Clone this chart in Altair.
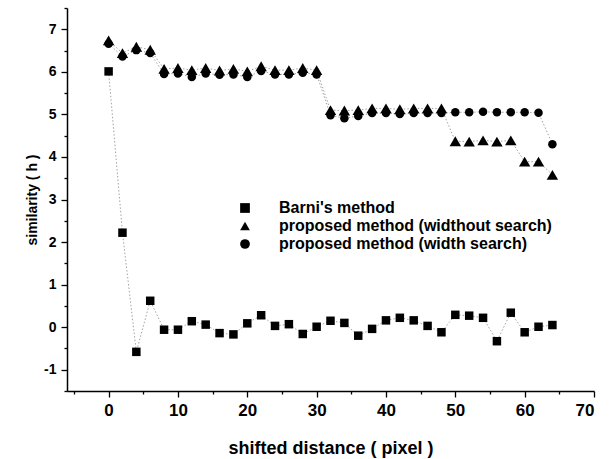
import altair as alt
import pandas as pd

x_vals = [0, 2, 4, 6, 8, 10, 12, 14, 16, 18, 20, 22, 24, 26, 28, 30, 32,
          34, 36, 38, 40, 42, 44, 46, 48, 50, 52, 54, 56, 58, 60, 62, 64]

barni = [6.01, 2.22, -0.58, 0.62, -0.06, -0.06, 0.14, 0.06, -0.14, -0.17, 0.09,
         0.28, 0.03, 0.07, -0.16, 0.01, 0.15, 0.10, -0.20, -0.04, 0.16, 0.22,
         0.16, 0.03, -0.12, 0.29, 0.27, 0.22, -0.33, 0.34, -0.12, 0.01, 0.05]

without_search = [6.74, 6.44, 6.59, 6.52, 6.07, 6.09, 6.04, 6.09, 6.03, 6.07, 6.01,
                  6.13, 6.04, 6.04, 6.09, 6.04, 5.10, 5.09, 5.10, 5.14, 5.14, 5.12,
                  5.14, 5.14, 5.14, 4.37, 4.36, 4.39, 4.36, 4.39, 3.89, 3.89, 3.58]

with_search = [6.66, 6.36, 6.51, 6.44, 5.95, 5.96, 5.88, 5.96, 5.93, 5.94, 5.88,
               6.02, 5.94, 5.94, 5.98, 5.94, 4.98, 4.91, 4.96, 5.03, 5.03, 5.01,
               5.03, 5.03, 5.03, 5.05, 5.05, 5.06, 5.05, 5.05, 5.05, 5.04, 4.30]

series_names = ["Barni's method",
                "proposed method (widthout search)",
                "proposed method (width search)"]

# drawing order: squares, then circles, then triangles on top
draw_order = [(series_names[0], barni), (series_names[2], with_search),
              (series_names[1], without_search)]

rows = []
for name, vals in draw_order:
    for xv, yv in zip(x_vals, vals):
        rows.append({"x": xv, "y": yv, "series": name})
df = pd.DataFrame(rows)

FONT = "Liberation Sans"
xdom = [-6, 70]
ydom = [-1.5, 7.5]

xs_major = alt.Scale(domain=xdom, nice=False, zero=False)
ys_major = alt.Scale(domain=ydom, nice=False, zero=False)

base = alt.Chart(df)

lines = base.mark_line(stroke="#8a8a8a", strokeWidth=0.8, strokeDash=[1.5, 2]).encode(
    x=alt.X("x:Q", scale=xs_major,
            axis=alt.Axis(title="shifted distance ( pixel )",
                          values=[0, 10, 20, 30, 40, 50, 60, 70],
                          orient="bottom", tickSize=6, labelPadding=5,
                          labelFontSize=17, titleFontSize=18,
                          titlePadding=21, grid=False)),
    y=alt.Y("y:Q", scale=ys_major,
            axis=alt.Axis(title="similarity ( h )",
                          values=[-1, 0, 1, 2, 3, 4, 5, 6, 7],
                          labelExpr="replace(datum.label, '\u2212', '-')",
                          orient="left", tickSize=6, labelPadding=5,
                          labelFontSize=14, titleFontSize=14,
                          titlePadding=4, grid=False)),
    detail="series:N",
)

points = base.transform_window(
    rank="row_number()"
).transform_calculate(
    msize="datum.series === \"Barni's method\" ? 72 : (datum.series === 'proposed method (width search)' ? 72 : 130)"
).mark_point(filled=True, opacity=1).encode(
    x=alt.X("x:Q", scale=xs_major),
    y=alt.Y("y:Q", scale=ys_major),
    shape=alt.Shape("series:N",
                    scale=alt.Scale(domain=series_names,
                                    range=["square", "triangle-up", "circle"]),
                    legend=alt.Legend(title=None, orient="none",
                                      legendX=170, legendY=192,
                                      padding=0, labelOffset=26, rowPadding=2,
                                      labelLimit=500, symbolSize=95,
                                      symbolFillColor="black",
                                      symbolStrokeColor="black",
                                      labelFont=FONT, labelFontSize=16,
                                      labelFontWeight="bold",
                                      labelColor="black")),
    size=alt.Size("msize:Q", scale=None),
    color=alt.value("black"),
    order=alt.Order("rank:Q"),
)

main = alt.layer(lines, points)

minor = base.mark_point(opacity=0).encode(
    x=alt.X("x:Q", scale=alt.Scale(domain=xdom, nice=False, zero=False),
            axis=alt.Axis(title=None, labels=False, domain=False, grid=False,
                          values=[-5, 5, 15, 25, 35, 45, 55, 65],
                          orient="bottom", tickSize=3)),
    y=alt.Y("y:Q", scale=alt.Scale(domain=ydom, nice=False, zero=False),
            axis=alt.Axis(title=None, labels=False, domain=False, grid=False,
                          values=[-1.5, -0.5, 0.5, 1.5, 2.5, 3.5, 4.5, 5.5, 6.5, 7.5],
                          orient="left", tickSize=3)),
)

chart = alt.layer(main, minor).resolve_scale(
    x="independent", y="independent"
).properties(
    width=527, height=383,
    padding={"left": 67, "top": 8, "right": 16, "bottom": 68},
    autosize=alt.AutoSizeParams(type="none"),
    background="white",
).configure_view(
    stroke=None
).configure_axis(
    domainColor="black", domainWidth=1.5, tickColor="black", tickWidth=1.3,
    labelFont=FONT, labelFontWeight="bold", labelColor="black",
    titleFont=FONT, titleFontWeight="bold", titleColor="black",
)

chart.save("out.html", embed_options={"renderer": "svg", "actions": False})
